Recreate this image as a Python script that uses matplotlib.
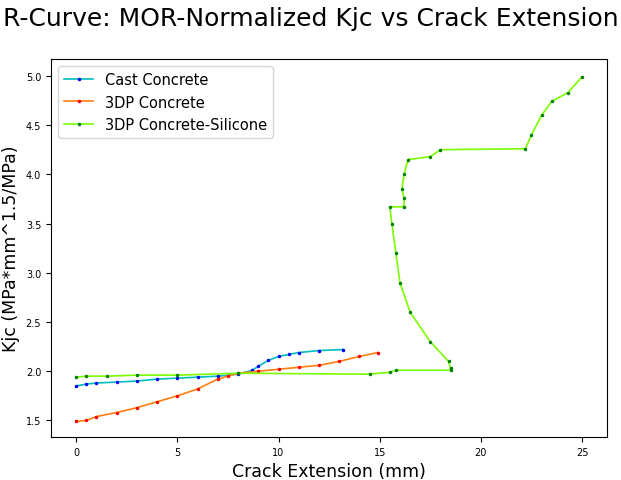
import matplotlib
matplotlib.use("Agg")
import matplotlib.pyplot as plt

cast_x = [0,0.5,1,2,3,4,5,6,7,8,8.7,9,9.5,10,10.5,11,12,13.2]
cast_y = [1.85,1.87,1.88,1.89,1.90,1.92,1.93,1.94,1.95,1.97,2.01,2.05,2.11,2.15,2.17,2.19,2.21,2.22]
dp_x = [0,0.5,1,2,3,4,5,6,7,7.5,8,9,10,11,12,13,14,14.9]
dp_y = [1.49,1.50,1.54,1.58,1.63,1.69,1.75,1.82,1.92,1.95,1.98,2.00,2.02,2.04,2.06,2.10,2.15,2.19]
si_x = [0,0.5,1.5,3,5,8,14.5,15.5,15.8,18.5,18.5,18.4,17.5,16.5,16,15.8,15.6,15.5,16.2,16.2,16.1,16.2,16.4,17.5,18,22.2,22.5,23,23.5,24.3,25]
si_y = [1.94,1.95,1.95,1.96,1.96,1.98,1.97,1.99,2.01,2.01,2.03,2.10,2.30,2.60,2.90,3.20,3.50,3.67,3.67,3.76,3.85,4.00,4.15,4.18,4.25,4.26,4.40,4.60,4.74,4.83,4.99]

fig, ax = plt.subplots(figsize=(6.21, 4.81), dpi=100)
fig.subplots_adjust(left=0.082, right=0.978, top=0.875, bottom=0.089)
ax.plot(cast_x, cast_y, color='c', lw=1.2, marker='.', ms=3, mfc='blue', mec='blue', label='Cast Concrete')
ax.plot(dp_x, dp_y, color='tab:orange', lw=1.2, marker='.', ms=3, mfc='red', mec='red', label='3DP Concrete')
ax.plot(si_x, si_y, color='lawngreen', lw=1.2, marker='.', ms=3, mfc='green', mec='green', label='3DP Concrete-Silicone')
ax.set_xlim(-1.25, 26.25)
ax.set_ylim(1.33, 5.17)
ax.tick_params(labelsize=7)
ax.set_xlabel('Crack Extension (mm)', fontsize=12.5)
ax.set_ylabel('Kjc (MPa*mm^1.5/MPa)', fontsize=12.5)
fig.suptitle('R-Curve: MOR-Normalized Kjc vs Crack Extension', fontsize=18, y=0.985)
ax.legend(loc='upper left', fontsize=10.5)
fig.savefig('out.png')
